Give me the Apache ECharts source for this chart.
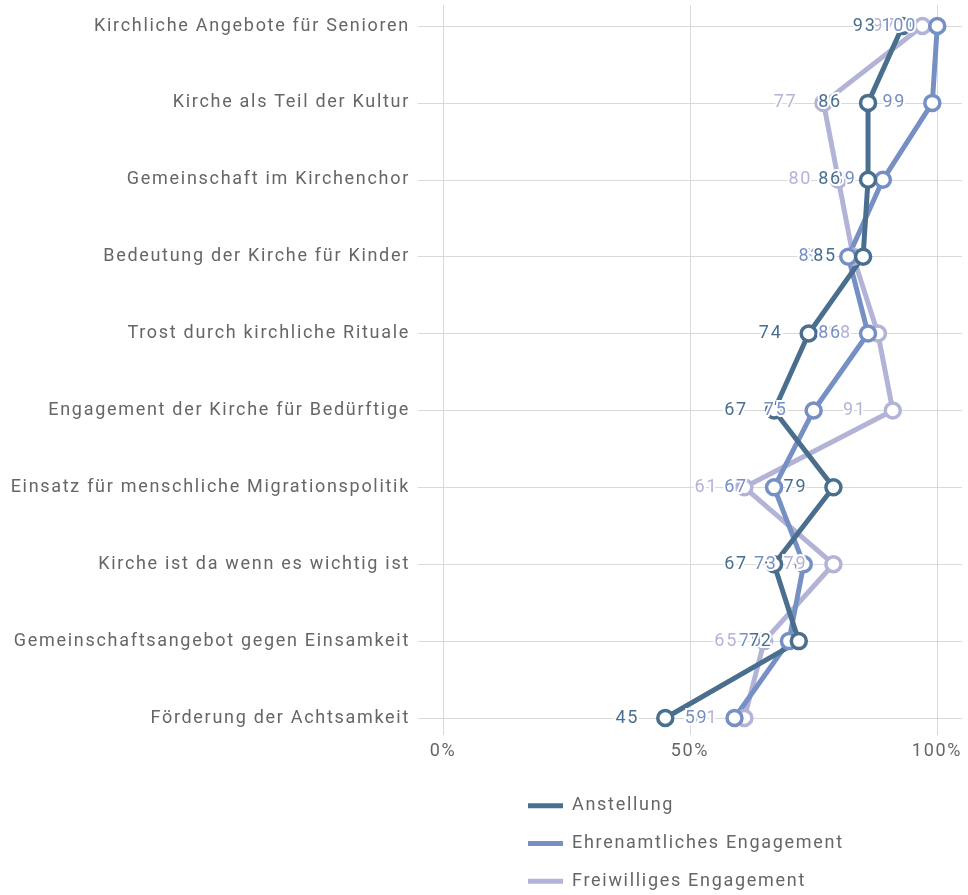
<!DOCTYPE html>
<html>
<head>
<meta charset="utf-8">
<script src="https://cdn.jsdelivr.net/npm/echarts@6/dist/echarts.min.js"></script>
<style>
  html, body { margin: 0; padding: 0; background: #fff; }
  #chart { width: 968px; height: 895px; }
</style>
</head>
<body>
<div id="chart"></div>
<script>
// Kategorien von oben nach unten
var categories = [
    'Kirchliche Angebote für Senioren',
    'Kirche als Teil der Kultur',
    'Gemeinschaft im Kirchenchor',
    'Bedeutung der Kirche für Kinder',
    'Trost durch kirchliche Rituale',
    'Engagement der Kirche für Bedürftige',
    'Einsatz für menschliche Migrationspolitik',
    'Kirche ist da wenn es wichtig ist',
    'Gemeinschaftsangebot gegen Einsamkeit',
    'Förderung der Achtsamkeit'
];
var seriesNames = ['Anstellung', 'Ehrenamtliches Engagement', 'Freiwilliges Engagement'];
var anstellung = [93, 86, 86, 85, 74, 67, 79, 67, 72, 45];
var ehrenamt = [100, 99, 89, 82, 86, 75, 67, 73, 70, 59];
var freiwillig = [97, 77, 80, 83, 88, 91, 61, 79, 65, 61];
var xTicks = [0, 50, 100];

var colors = ['#4a6f8e', '#7690c4', '#b3b3d8'];
var font = 'Roboto';
var textColor = '#666';

// etwas breitere Laufweite wie im Original
(function () {
    var orig = HTMLCanvasElement.prototype.getContext;
    HTMLCanvasElement.prototype.getContext = function (type, opts) {
        var ctx = orig.call(this, type, opts);
        if (ctx && type === '2d' && 'letterSpacing' in ctx) {
            ctx.letterSpacing = '1.7px';
        }
        return ctx;
    };
})();

function makeSeries(name, values, color) {
    var data = [];
    for (var i = 0; i < values.length; i++) {
        data.push([values[i], categories[i]]);
    }
    return {
        name: name,
        type: 'line',
        xAxisIndex: 0,
        yAxisIndex: 0,
        data: data,
        color: color,
        symbol: 'circle',
        symbolSize: 15,
        showAllSymbol: true,
        lineStyle: { width: 5, color: color },
        itemStyle: { color: '#fff', borderColor: color, borderWidth: 3.5 },
        label: {
            show: true,
            position: 'inside',
            offset: [-38, 0],
            formatter: function (p) { return p.value[0]; },
            color: color,
            fontFamily: font,
            fontSize: 18,
            textBorderColor: '#fff',
            textBorderWidth: 4
        },
        emphasis: { disabled: true },
        animation: false
    };
}

var legendData = [];
for (var k = 0; k < seriesNames.length; k++) {
    legendData.push({ name: seriesNames[k], itemStyle: { color: colors[k], borderWidth: 0 } });
}

var myChart = echarts.init(document.getElementById('chart'));
var option = {
    backgroundColor: '#fff',
    animation: false,
    textStyle: { fontFamily: font },
    legend: {
        data: legendData,
        orient: 'vertical',
        left: 528,
        top: 796,
        padding: 0,
        icon: 'rect',
        itemWidth: 35,
        itemHeight: 5,
        itemGap: 18,
        textStyle: { color: textColor, fontSize: 18, fontFamily: font, padding: [0, 0, 0, 4] }
    },
    grid: [
        // Datenbereich
        { left: 418, right: 6, top: 26, bottom: 177 },
        // Hintergrund fuer senkrechte Linien
        { left: 443, right: 31, top: 5, bottom: 160 }
    ],
    xAxis: [
        {
            type: 'value', gridIndex: 0, min: -5, max: 105,
            show: false, splitLine: { show: false }
        },
        {
            type: 'value', gridIndex: 1, min: xTicks[0], max: xTicks[xTicks.length - 1],
            interval: 50,
            axisLine: { show: false },
            axisTick: { show: false },
            splitLine: { show: true, lineStyle: { color: '#d9d9d9', width: 1 } },
            axisLabel: {
                formatter: '{value}%',
                color: textColor, fontSize: 18, fontFamily: font, margin: 7
            }
        }
    ],
    yAxis: [
        {
            type: 'category', gridIndex: 0, data: categories, inverse: true,
            boundaryGap: false,
            axisLine: { show: false },
            axisTick: { show: false },
            splitLine: { show: true, lineStyle: { color: '#d9d9d9', width: 1 } },
            axisLabel: { color: textColor, fontSize: 18, fontFamily: font, margin: 8 }
        },
        {
            type: 'value', gridIndex: 1, show: false, splitLine: { show: false }
        }
    ],
    // Reihenfolge: hellste Serie unten, dunkelste oben
    series: [
        makeSeries(seriesNames[2], freiwillig, colors[2]),
        makeSeries(seriesNames[1], ehrenamt, colors[1]),
        makeSeries(seriesNames[0], anstellung, colors[0])
    ]
};
myChart.setOption(option);
</script>
</body>
</html>
